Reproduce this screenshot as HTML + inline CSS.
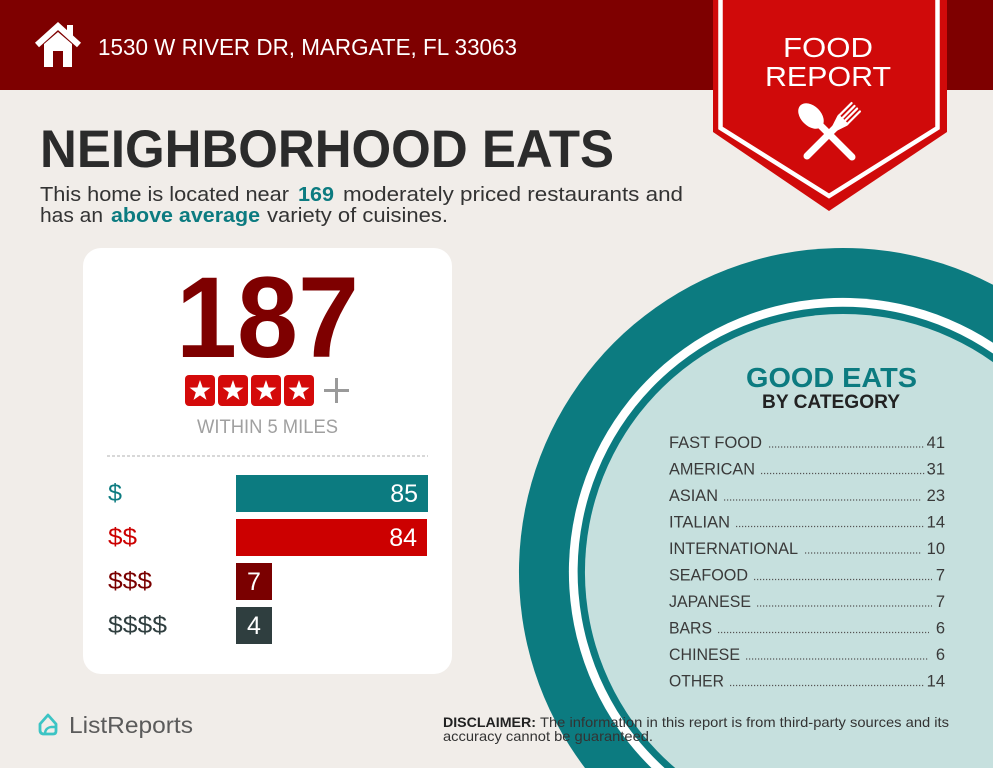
<!DOCTYPE html>
<html><head><meta charset="utf-8"><style>
html,body{margin:0;padding:0;background:#f1ede9;width:993px;height:768px;overflow:hidden;}
svg{display:block;}
text{font-family:"Liberation Sans",Arial,sans-serif;}
</style></head><body>
<svg width="993" height="768" viewBox="0 0 993 768" xmlns="http://www.w3.org/2000/svg">
<rect x="0" y="0" width="993" height="768" fill="#f1ede9"/>
<!-- header -->
<rect x="0" y="0" width="993" height="90" fill="#7e0000"/>
<!-- house icon -->
<g fill="#ffffff">
  <polyline points="37,45 58,26 79,45" fill="none" stroke="#fff" stroke-width="6" stroke-linejoin="miter"/>
  <rect x="67" y="25" width="6" height="12"/>
  <path d="M44,44 L58,32 L72,44 L72,67 L63,67 L63,51 L53,51 L53,67 L44,67 Z"/>
</g>
<text x="98" y="55" font-size="23" fill="#fff" textLength="419" lengthAdjust="spacingAndGlyphs">1530 W RIVER DR, MARGATE, FL 33063</text>

<!-- badge -->
<polygon points="713,0 947,0 947,132 829,211 713,132" fill="#d00a0a"/>
<polyline points="720.5,0 720.5,128 829,196 937.5,128 937.5,0" fill="none" stroke="#fff" stroke-width="4.5"/>
<text x="783" y="57" font-size="28" fill="#fff" textLength="90" lengthAdjust="spacingAndGlyphs">FOOD</text>
<text x="765" y="86" font-size="28" fill="#fff" textLength="126" lengthAdjust="spacingAndGlyphs">REPORT</text>
<!-- utensils -->
<g transform="translate(807,156) rotate(-45)" fill="#fff">
  <line x1="0" y1="0" x2="42" y2="0" stroke="#fff" stroke-width="7" stroke-linecap="round"/>
  <path d="M38,-3 L50,-7 L52,-7 L52,7 L50,7 L38,3 Z"/>
  <rect x="50" y="-7" width="20" height="2.2" rx="1"/>
  <rect x="50" y="-2.9" width="20" height="2.2" rx="1"/>
  <rect x="50" y="0.8" width="20" height="2.2" rx="1"/>
  <rect x="50" y="4.8" width="20" height="2.2" rx="1"/>
</g>
<g transform="translate(852,157) rotate(-135)" fill="#fff">
  <line x1="0" y1="0" x2="45" y2="0" stroke="#fff" stroke-width="7" stroke-linecap="round"/>
  <ellipse cx="58" cy="0" rx="15" ry="10"/>
</g>

<!-- title -->
<text x="40" y="167" font-size="53" font-weight="bold" fill="#2b2b2b" textLength="574" lengthAdjust="spacingAndGlyphs">NEIGHBORHOOD EATS</text>
<g font-size="20" fill="#333">
<text x="40" y="201" textLength="249" lengthAdjust="spacingAndGlyphs">This home is located near</text>
<text x="298" y="201" font-weight="bold" fill="#0c7b80" textLength="36" lengthAdjust="spacingAndGlyphs">169</text>
<text x="343" y="201" textLength="340" lengthAdjust="spacingAndGlyphs">moderately priced restaurants and</text>
<text x="40" y="222" textLength="63" lengthAdjust="spacingAndGlyphs">has an</text>
<text x="111" y="222" font-weight="bold" fill="#0c7b80" textLength="149" lengthAdjust="spacingAndGlyphs">above average</text>
<text x="267" y="222" textLength="181" lengthAdjust="spacingAndGlyphs">variety of cuisines.</text>
</g>

<!-- card -->
<rect x="83" y="248" width="369" height="426" rx="18" fill="#ffffff"/>
<text x="176" y="357" font-size="115" font-weight="bold" fill="#7e0000" textLength="183" lengthAdjust="spacingAndGlyphs">187</text>
<defs>
<polygon id="st" points="0,-11 2.59,-3.56 10.46,-3.4 4.18,1.36 6.47,8.9 0,4.4 -6.47,8.9 -4.18,1.36 -10.46,-3.4 -2.59,-3.56" fill="#fff"/>
</defs>
<g fill="#d40a0a">
<rect x="185" y="375" width="30" height="31" rx="4"/>
<rect x="218" y="375" width="30" height="31" rx="4"/>
<rect x="251" y="375" width="30" height="31" rx="4"/>
<rect x="284" y="375" width="30" height="31" rx="4"/>
</g>
<use href="#st" x="200" y="391"/>
<use href="#st" x="233" y="391"/>
<use href="#st" x="266" y="391"/>
<use href="#st" x="299" y="391"/>
<line x1="324" y1="390.5" x2="349" y2="390.5" stroke="#9a9a9a" stroke-width="3"/>
<line x1="336.5" y1="378" x2="336.5" y2="403" stroke="#9a9a9a" stroke-width="3"/>
<text x="197" y="433" font-size="19" fill="#a0a0a0" textLength="141" lengthAdjust="spacingAndGlyphs">WITHIN 5 MILES</text>
<line x1="107" y1="456" x2="428" y2="456" stroke="#b0b0b0" stroke-width="1" stroke-dasharray="3 2"/>

<!-- bars -->
<rect x="236" y="475" width="192" height="37" fill="#0c7b80"/>
<rect x="236" y="519" width="191" height="37" fill="#cc0000"/>
<rect x="236" y="563" width="36" height="37" fill="#7a0000"/>
<rect x="236" y="607" width="36" height="37" fill="#2f3e3f"/>
<g font-size="25" fill="#fff">
<text x="418" y="502" text-anchor="end">85</text>
<text x="417" y="546" text-anchor="end">84</text>
<text x="254" y="590" text-anchor="middle">7</text>
<text x="254" y="634" text-anchor="middle">4</text>
</g>
<g font-size="24">
<text x="108" y="501" fill="#0c7b80" textLength="14" lengthAdjust="spacingAndGlyphs">$</text>
<text x="108" y="545" fill="#cc0000" textLength="29" lengthAdjust="spacingAndGlyphs">$$</text>
<text x="108" y="589" fill="#7a0000" textLength="44" lengthAdjust="spacingAndGlyphs">$$$</text>
<text x="108" y="633" fill="#2f3e3f" textLength="59" lengthAdjust="spacingAndGlyphs">$$$$</text>
</g>

<!-- circle (clipped to frame as paths) -->
<path d="M993,284.8 A324,324 0 0 0 585,768 L993,768 Z" fill="#0c7b80"/>
<path d="M993,342.7 A274,274 0 0 0 651.5,768 L993,768 Z" fill="#ffffff"/>
<path d="M993,353.5 A265,265 0 0 0 664.6,768 L993,768 Z" fill="#0c7b80"/>
<path d="M993,362.1 A258,258 0 0 0 675.2,768 L993,768 Z" fill="#c6e0de"/>

<text x="746" y="387" font-size="28" font-weight="bold" fill="#0c7b80" textLength="171" lengthAdjust="spacingAndGlyphs">GOOD EATS</text>
<text x="762" y="408" font-size="19" font-weight="bold" fill="#222" textLength="138" lengthAdjust="spacingAndGlyphs">BY CATEGORY</text>

<g font-size="16.5" fill="#3a3a3a">
<text x="669" y="448" textLength="93" lengthAdjust="spacingAndGlyphs">FAST FOOD</text>
<text x="669" y="474.5" textLength="86" lengthAdjust="spacingAndGlyphs">AMERICAN</text>
<text x="669" y="501" textLength="49" lengthAdjust="spacingAndGlyphs">ASIAN</text>
<text x="669" y="527.5" textLength="61" lengthAdjust="spacingAndGlyphs">ITALIAN</text>
<text x="669" y="554" textLength="129" lengthAdjust="spacingAndGlyphs">INTERNATIONAL</text>
<text x="669" y="580.5" textLength="79" lengthAdjust="spacingAndGlyphs">SEAFOOD</text>
<text x="669" y="607" textLength="82" lengthAdjust="spacingAndGlyphs">JAPANESE</text>
<text x="669" y="633.5" textLength="43" lengthAdjust="spacingAndGlyphs">BARS</text>
<text x="669" y="660" textLength="71" lengthAdjust="spacingAndGlyphs">CHINESE</text>
<text x="669" y="686.5" textLength="55" lengthAdjust="spacingAndGlyphs">OTHER</text>
<g text-anchor="end">
<text x="945" y="448">41</text>
<text x="945" y="474.5">31</text>
<text x="945" y="501">23</text>
<text x="945" y="527.5">14</text>
<text x="945" y="554">10</text>
<text x="945" y="580.5">7</text>
<text x="945" y="607">7</text>
<text x="945" y="633.5">6</text>
<text x="945" y="660">6</text>
<text x="945" y="686.5">14</text>
</g>
</g>
<g stroke="#555" stroke-width="1.3" stroke-dasharray="1.2 1.8">
<line x1="769" y1="447" x2="925" y2="447"/>
<line x1="761" y1="473.5" x2="925" y2="473.5"/>
<line x1="724" y1="500" x2="921" y2="500"/>
<line x1="736" y1="526.5" x2="925" y2="526.5"/>
<line x1="805" y1="553" x2="921" y2="553"/>
<line x1="754" y1="579.5" x2="932" y2="579.5"/>
<line x1="757" y1="606" x2="932" y2="606"/>
<line x1="718" y1="632.5" x2="929" y2="632.5"/>
<line x1="746" y1="659" x2="929" y2="659"/>
<line x1="730" y1="685.5" x2="925" y2="685.5"/>
</g>

<!-- disclaimer -->
<g font-size="14" fill="#333">
<text x="443" y="727" font-weight="bold" fill="#222" textLength="93" lengthAdjust="spacingAndGlyphs">DISCLAIMER:</text>
<text x="540" y="727" textLength="409" lengthAdjust="spacingAndGlyphs">The information in this report is from third-party sources and its</text>
<text x="443" y="741" textLength="210" lengthAdjust="spacingAndGlyphs">accuracy cannot be guaranteed.</text>
</g>

<!-- logo -->
<path d="M40,724 L48,715 L56,724 L56,731 Q56,734 53,734 L44,734 Q40,734 40,730 Z" fill="none" stroke="#3cc4c4" stroke-width="2.8" stroke-linejoin="round"/>
<path d="M45,734 Q45,728 51,727 L56,727" fill="none" stroke="#3cc4c4" stroke-width="2.4"/>
<text x="69" y="733" font-size="23" fill="#5b5b5b" textLength="124" lengthAdjust="spacingAndGlyphs">ListReports</text>
</svg>
</body></html>
